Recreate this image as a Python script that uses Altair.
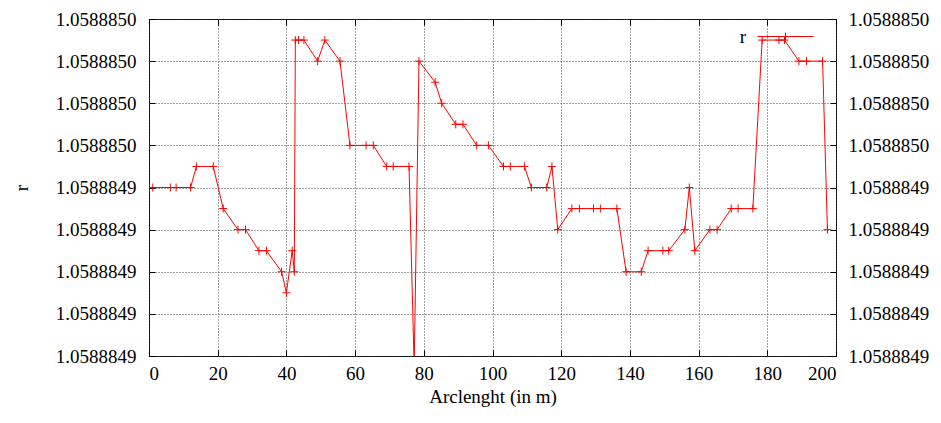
import altair as alt
import pandas as pd

# ---- data ----
arclength = [0.0, 1.1, 6.2, 7.9, 12.1, 13.8, 18.7, 21.6, 25.9, 28.1,
             32.0, 34.2, 38.6, 40.0, 41.7, 42.3, 42.6, 43.5, 45.1, 49.1,
             51.2, 55.6, 58.5, 63.2, 65.3, 69.2, 71.1, 75.7, 77.2, 78.6,
             83.3, 85.2, 89.3, 91.4, 95.4, 98.8, 103.2, 105.2, 109.3, 111.3,
             115.8, 117.3, 119.0, 123.1, 125.3, 129.4, 131.4, 136.2, 138.9, 143.3,
             145.3, 149.6, 151.3, 156.0, 157.3, 158.9, 163.3, 165.4, 169.5, 171.5,
             175.8, 178.5, 183.4, 185.0, 189.2, 191.4, 196.1, 197.5]

r_values = [1.058884949, 1.058884949, 1.058884949, 1.058884949, 1.058884949,
            1.058884950, 1.058884950, 1.058884948, 1.058884947, 1.058884947,
            1.058884946, 1.058884946, 1.058884945, 1.058884944, 1.058884946,
            1.058884945, 1.058884956, 1.058884956, 1.058884956, 1.058884955,
            1.058884956, 1.058884955, 1.058884951, 1.058884951, 1.058884951,
            1.058884950, 1.058884950, 1.058884950, 1.0588849405, 1.058884955,
            1.058884954, 1.058884953, 1.058884952, 1.058884952, 1.058884951,
            1.058884951, 1.058884950, 1.058884950, 1.058884950, 1.058884949,
            1.058884949, 1.058884950, 1.058884947, 1.058884948, 1.058884948,
            1.058884948, 1.058884948, 1.058884948, 1.058884945, 1.058884945,
            1.058884946, 1.058884946, 1.058884946, 1.058884947, 1.058884949,
            1.058884946, 1.058884947, 1.058884947, 1.058884948, 1.058884948,
            1.058884948, 1.058884956, 1.058884956, 1.058884956, 1.058884955,
            1.058884955, 1.058884955, 1.058884947]

series_name = "r"
x_ticks = [0, 20, 40, 60, 80, 100, 120, 140, 160, 180, 200]
y_ticks = [1.058884941, 1.058884943, 1.058884945, 1.058884947, 1.058884949,
           1.058884951, 1.058884953, 1.058884955, 1.058884957]

df = pd.DataFrame({"arclength": arclength, "r": r_values,
                   "series": [series_name] * len(arclength)})

FONT = "Liberation Serif"
FS = 19
RED = "#ff0000"

x_scale = alt.Scale(domain=[x_ticks[0], x_ticks[-1]], nice=False, zero=False)
y_scale = alt.Scale(domain=[y_ticks[0], y_ticks[-1]], nice=False, zero=False)

common = dict(domain=False, tickSize=6, offset=-6, tickColor="black", tickWidth=1,
              labelFont=FONT, labelFontSize=FS, labelColor="black",
              titleFont=FONT, titleFontSize=FS, titleFontWeight="normal",
              titleColor="black")

line = alt.Chart(df).mark_line(color=RED, strokeWidth=1, clip=True).encode(
    x=alt.X("arclength:Q", scale=x_scale, title="Arclenght (in m)",
            axis=alt.Axis(orient="bottom", values=x_ticks, format="d", grid=True,
                          gridDash=[1, 2], gridColor="#444", gridWidth=1,
                          labelPadding=8, titlePadding=4, **common)),
    y=alt.Y("r:Q", scale=y_scale, title="r",
            axis=alt.Axis(orient="left", values=y_ticks, format=".7f", grid=True,
                          gridDash=[1, 2], gridColor="#444", gridWidth=1,
                          labelPadding=13, titlePadding=24, **common)),
    color=alt.Color("series:N", scale=alt.Scale(range=[RED]),
                    legend=alt.Legend(orient="none", legendX=608, legendY=-11,
                                      title=None, padding=0,
                                      symbolType="M-1,0H1M0,-0.143V0.143",
                                      symbolSize=3136, symbolStrokeColor=RED,
                                      symbolStrokeWidth=1,
                                      symbolFillColor="transparent",
                                      labelFont=FONT, labelFontSize=FS,
                                      labelColor="black", labelAlign="right",
                                      labelOffset={"expr": "-68"})),
)

points = alt.Chart(df).mark_point(shape="M-1,0H1M0,-1V1", size=64, filled=False,
                                  color=RED, strokeWidth=1, opacity=1,
                                  clip=True).encode(
    x=alt.X("arclength:Q", scale=x_scale, title="",
            axis=alt.Axis(orient="top", values=x_ticks, labels=False, grid=False,
                          **common)),
    y=alt.Y("r:Q", scale=y_scale, title="",
            axis=alt.Axis(orient="right", values=y_ticks, format=".7f", grid=False,
                          labelPadding=12, **common)),
)

chart = alt.layer(line, points).resolve_axis(
    x="independent", y="independent"
).properties(
    width=687, height=337,
    autosize=alt.AutoSizeParams(type="none"),
    padding={"left": 141, "top": 11, "right": 97, "bottom": 59},
).configure_view(stroke="black", strokeWidth=1)

chart.save("out.html", embed_options={"renderer": "svg", "actions": False})
